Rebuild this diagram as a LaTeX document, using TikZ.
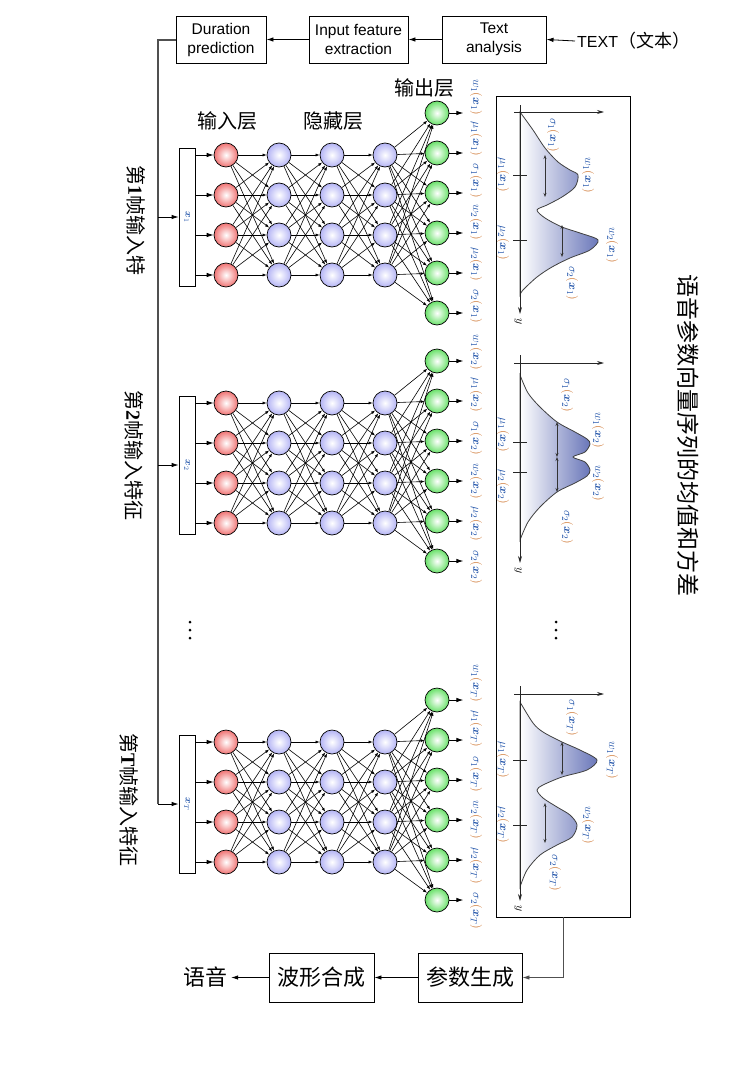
\documentclass[tikz,border=0pt]{standalone}
\usepackage[no-math]{fontspec}
\usepackage{amsmath,bm,graphicx}
\setmainfont{Liberation Sans}
\newfontfamily\cjk{Noto Sans CJK SC}
\newfontfamily\serifnum{Liberation Serif}
\usetikzlibrary{arrows.meta}
\definecolor{lblue}{RGB}{35,85,170}
\definecolor{lorange}{RGB}{205,115,45}
\definecolor{densblue}{RGB}{105,118,185}
\definecolor{redout}{RGB}{240,115,115}
\definecolor{blueout}{RGB}{180,180,245}
\definecolor{greenout}{RGB}{105,225,105}
\definecolor{trunk}{RGB}{80,80,80}
\newcommand{\plab}[2]{$\color{lblue}#1{\color{lorange}(}\bm{x}_{#2}{\color{lorange})}$}
\begin{document}
\begin{tikzpicture}[x=1pt,y=-1pt,
  every node/.style={inner sep=0pt},
  box/.style={draw,line width=0.9pt,align=center,inner sep=0pt,font=\fontsize{15.5}{19}\selectfont},
  cbox/.style={draw,line width=0.9pt,inner sep=0pt,font=\cjk\fontsize{22}{24}\selectfont,minimum height=49pt},
  arr/.style={-{Latex[length=7pt,width=4.5pt]},line width=0.8pt},
  gline/.style={draw=trunk,line width=1.3pt},
  neur/.style={circle,draw,line width=0.7pt,minimum size=24pt,inner sep=0pt},
  inn/.style={neur,shading=radial,inner color=white,outer color=redout},
  hid/.style={neur,shading=radial,inner color=white,outer color=blueout},
  outn/.style={neur,shading=radial,inner color=white,outer color=greenout},
  conn/.style={line width=0.6pt,-{Latex[length=4pt,width=3pt]}},
  lab/.style={rotate=-90,font=\fontsize{13}{15}\selectfont},
  cjklab/.style={font=\cjk\fontsize{20}{22}\selectfont},
  curve/.style={draw=black!75,line width=0.8pt,left color=white,right color=densblue},
  axarr/.style={line width=0.8pt,draw=black!85,-{Stealth[length=7pt,width=4pt]}},
  sig/.style={line width=0.8pt,draw=black!80,{Stealth[length=4pt,width=3pt]}-{Stealth[length=4pt,width=3pt]}},
  tick/.style={line width=0.8pt,draw=black!85},
  dot/.style={circle,fill=black,inner sep=0pt,minimum size=3pt},
]
\useasboundingbox (0,0) rectangle (748,1081);

% top pipeline
\node[box,minimum width=90pt,minimum height=47pt] (dur) at (221,39.5) {Duration\\prediction};
\node[box,minimum width=99pt,minimum height=47pt] (inp) at (358.5,39.5) {Input feature\\extraction};
\node[box,minimum width=104pt,minimum height=47pt] (txt) at (494,39.5) {Text\\analysis};
\node[anchor=west,inner sep=2pt] (tx) at (575,41) {\fontsize{16}{18}\selectfont TEXT{\cjk\fontsize{18}{20}\selectfont （文本）}};
\draw[arr] (tx.west) -- (txt.east);
\draw[arr] (txt.west) -- (inp.east);
\draw[arr] (inp.west) -- (dur.east);

% layer labels
\node[cjklab] (l1) at (227,121) {输入层};
\node[cjklab] (l2) at (333,121) {隐藏层};
\node[cjklab] (l3) at (424,88) {输出层};

% networks
\foreach \n/\dy/\s in {1/0/1,2/248/2,3/587/T}{
  \node[draw,line width=0.8pt,minimum width=16pt,minimum height=138pt] (X\n) at (187,{217+\dy}) {\rotatebox{-90}{\fontsize{10}{11}\selectfont$\color{lblue}\bm{x}_{\s}$}};
  \foreach \i in {1,...,4}{
    \node[inn] (I\n-\i) at (226,{155+40*\i-40+\dy}) {};
    \node[hid] (A\n-\i) at (279,{155+40*\i-40+\dy}) {};
    \node[hid] (B\n-\i) at (332,{155+40*\i-40+\dy}) {};
    \node[hid] (C\n-\i) at (385,{155+40*\i-40+\dy}) {};
  }
  \foreach \j in {1,...,6}{
    \node[outn] (O\n-\j) at (437,{113+40*\j-40+\dy}) {};
    \draw[arr] (O\n-\j.east) -- ++(14,0);
  }
  \foreach \a in {1,...,4}{
    \draw[arr] (X\n.east |- I\n-\a) -- (I\n-\a.west);
    \foreach \b in {1,...,4}{
      \draw[conn] (I\n-\a) -- (A\n-\b);
      \draw[conn] (A\n-\a) -- (B\n-\b);
      \draw[conn] (B\n-\a) -- (C\n-\b);
    }
    \foreach \b in {1,...,6}{
      \draw[conn] (C\n-\a) -- (O\n-\b);
    }
  }
}

% output labels
\foreach \n/\ys/\sp/\s in {1/97/41.8/1,2/352/43/2,3/683/45.6/T}{
  \foreach \j/\nm in {0/w_1,1/\mu_1,2/\sigma_1,3/w_2,4/\mu_2,5/\sigma_2}{
    \node[lab] (o\n\j) at (476,{\ys+\sp*\j}) {\plab{\nm}{\s}};
  }
}

% trunk line
\coordinate (c1) at (158,40);
\draw[gline] (dur.west |- c1) -- (c1) -- (c1 |- X3.west);
\foreach \n in {1,2,3}{
  \draw[arr] (c1 |- X\n.west) -- (X\n.west);
}

% left labels
\node[cjklab,rotate=-90] (f1) at (136,220) {第{\serifnum\bfseries 1}帧输入特};
\node[cjklab,rotate=-90] (f2) at (134,455) {第{\serifnum\bfseries 2}帧输入特征};
\node[cjklab,rotate=-90] (f3) at (129,800) {第{\serifnum\bfseries T}帧输入特征};

% dots
\foreach \yy in {622,630,638}{
  \node[dot] at (190,\yy) {};
  \node[dot] at (556,\yy) {};
}

% right box
\node[draw,line width=0.9pt,minimum width=134pt,minimum height=821pt] (rb) at (563,506.5) {};
\node[rotate=-90,font=\cjk\fontsize{23}{25}\selectfont] (rt) at (688,435) {语音参数向量序列的均值和方差};

% panel 1
\shadedraw[curve] plot[smooth] coordinates {(520,112) (533,130) (545,148) (558,162) (570,170) (578,175) (575,187) (562,197) (547,205) (537,210) (545,218) (562,227) (580,233) (598,240) (590,250) (570,258) (552,267) (537,277) (523,290) (520,295)} -- cycle;
\draw[axarr] (514,112) -- (604,112);
\draw[axarr] (520,105) -- (520,314);
\node[lab] (y1) at (518,322) {$y$};
\draw[tick] (513,175) -- (527,175);
\draw[tick] (513,240) -- (527,240);
\draw[sig] (545,155) -- (545,197);
\draw[sig] (562,225) -- (562,257);
\node[lab] at (553,135) {\plab{\sigma_1}{1}};
\node[lab] at (588,175) {\plab{w_1}{1}};
\node[lab] at (503,175) {\plab{\mu_1}{1}};
\node[lab] at (503,243) {\plab{\mu_2}{1}};
\node[lab] at (612,245) {\plab{w_2}{1}};
\node[lab] at (572,283) {\plab{\sigma_2}{1}};

% panel 2
\shadedraw[curve] plot[smooth] coordinates {(520,375) (528,393) (540,407) (557,422) (575,432) (587,439) (590,444) (585,452) (573,457) (585,462) (590,470) (587,476) (575,483) (557,492) (540,507) (528,522) (520,540)} -- cycle;
\draw[axarr] (514,363) -- (604,363);
\draw[axarr] (520,355) -- (520,563);
\node[lab] (y2) at (518,571) {$y$};
\draw[tick] (513,442) -- (527,442);
\draw[tick] (513,472) -- (527,472);
\draw[sig] (557,422) -- (557,457);
\draw[sig] (557,457) -- (557,492);
\node[lab] at (567,395) {\plab{\sigma_1}{2}};
\node[lab] at (598,430) {\plab{w_1}{2}};
\node[lab] at (598,483) {\plab{w_2}{2}};
\node[lab] at (567,527) {\plab{\sigma_2}{2}};
\node[lab] at (503,435) {\plab{\mu_1}{2}};
\node[lab] at (503,487) {\plab{\mu_2}{2}};

% panel 3
\shadedraw[curve] plot[smooth] coordinates {(520,702) (533,723) (543,732) (562,742) (580,750) (597,760) (587,770) (562,777) (543,785) (537,790) (543,798) (557,807) (570,815) (577,825) (572,837) (557,845) (540,855) (527,870) (520,887)} -- cycle;
\draw[axarr] (514,694) -- (604,694);
\draw[axarr] (520,686) -- (520,901);
\node[lab] (y3) at (518,909) {$y$};
\draw[tick] (513,760) -- (527,760);
\draw[tick] (513,825) -- (527,825);
\draw[sig] (562,742) -- (562,775);
\draw[sig] (545,803) -- (545,843);
\node[lab] at (572,718) {\plab{\sigma_1}{T}};
\node[lab] at (612,760) {\plab{w_1}{T}};
\node[lab] at (588,825) {\plab{w_2}{T}};
\node[lab] at (555,873) {\plab{\sigma_2}{T}};
\node[lab] at (503,760) {\plab{\mu_1}{T}};
\node[lab] at (503,825) {\plab{\mu_2}{T}};

% bottom pipeline
\node[cbox,minimum width=104pt] (pg) at (470,977.5) {参数生成};
\node[cbox,minimum width=105pt] (wf) at (321.5,977.5) {波形合成};
\node[inner sep=4pt,font=\cjk\fontsize{22}{24}\selectfont] (sp) at (205,977.5) {语音};
\draw[gline,arr,draw=trunk] (rb.south) |- (pg.east);
\draw[arr] (pg.west) -- (wf.east);
\draw[arr] (wf.west) -- (sp.east);
\end{tikzpicture}
\end{document}
